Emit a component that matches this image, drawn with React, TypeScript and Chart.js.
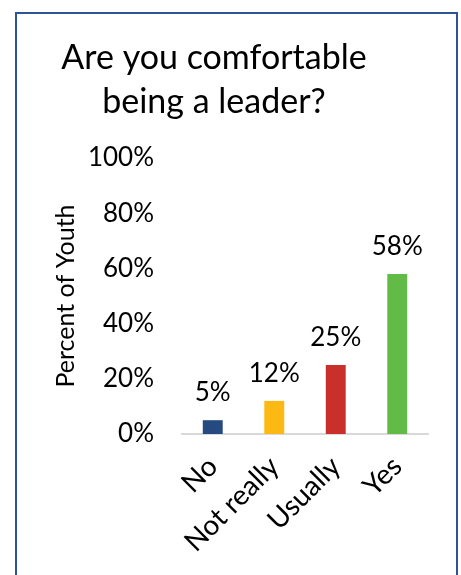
import React, { useEffect, useRef } from "react";
import { Chart, registerables } from "chart.js";

Chart.register(...registerables);

const titleLines = ["Are you comfortable", "being a leader?"];
const categories = ["No", "Not really", "Usually", "Yes"];
const values = [5, 12, 25, 58];
const barColors = ["#254A7F", "#FDB913", "#C9302C", "#63BB47"];
const yTicks = [0, 20, 40, 60, 80, 100];
const yAxisTitle = "Percent of Youth";

const FONT = "Lato";

const dataLabelPlugin = {
  id: "dataLabels",
  afterDatasetsDraw(chart: any) {
    const ctx = chart.ctx;
    const meta = chart.getDatasetMeta(0);
    ctx.save();
    ctx.font = `26px ${FONT}`;
    ctx.fillStyle = "#000";
    ctx.textAlign = "center";
    ctx.textBaseline = "alphabetic";
    meta.data.forEach((bar: any, i: number) => {
      ctx.fillText(values[i] + "%", bar.x, bar.y - 19);
    });
    ctx.restore();
  },
};

export default function App() {
  const ref = useRef<HTMLCanvasElement>(null);
  useEffect(() => {
    if (!ref.current) return;
    const chart = new Chart(ref.current, {
      type: "bar",
      data: {
        labels: categories,
        datasets: [
          {
            data: values,
            backgroundColor: barColors,
            borderWidth: 0,
            categoryPercentage: 0.36,
            barPercentage: 0.9,
          },
        ],
      },
      plugins: [dataLabelPlugin],
      options: {
        responsive: false,
        animation: false,
        layout: { padding: { left: 0, right: 33, top: 0, bottom: 0 } },
        plugins: {
          legend: { display: false },
          tooltip: { enabled: false },
          title: {
            display: true,
            text: titleLines,
            color: "#000",
            font: { family: FONT, size: 34, weight: "normal", lineHeight: 44 / 34 },
            padding: { top: 36, bottom: 34 },
          },
        },
        scales: {
          x: {
            grid: { display: false, drawTicks: false },
            border: { display: true, color: "#D9D9D9", width: 2 },
            ticks: {
              color: "#000",
              font: { family: FONT, size: 28 },
              minRotation: 45,
              maxRotation: 45,
              padding: 16,
            },
            afterFit: (scale: any) => {
              scale.height = 141;
            },
          },
          y: {
            min: 0,
            max: 100,
            grid: { display: false, drawTicks: false },
            border: { display: false },
            afterBuildTicks: (scale: any) => {
              scale.ticks = yTicks.map((v) => ({ value: v }));
            },
            ticks: {
              color: "#000",
              font: { family: FONT, size: 26 },
              padding: 28,
              callback: (v: any) => v + "%",
            },
            title: {
              display: true,
              text: yAxisTitle,
              color: "#000",
              font: { family: FONT, size: 25 },
              padding: { top: 51, bottom: 0 },
            },
            afterFit: (scale: any) => {
              scale.width = 182;
            },
          },
        },
      },
    });
    return () => chart.destroy();
  }, []);

  return (
    <div
      style={{
        position: "absolute",
        left: 0,
        top: 0,
        width: 461,
        height: 575,
        overflow: "hidden",
        background: "#fff",
      }}
    >
      <div
        style={{
          position: "absolute",
          left: 15,
          top: 12,
          width: 443,
          height: 620,
          boxSizing: "border-box",
          border: "2px solid #2F5496",
        }}
      />
      <canvas
        ref={ref}
        width={461}
        height={575}
        style={{ position: "absolute", left: 0, top: 0, width: 461, height: 575 }}
      />
    </div>
  );
}
